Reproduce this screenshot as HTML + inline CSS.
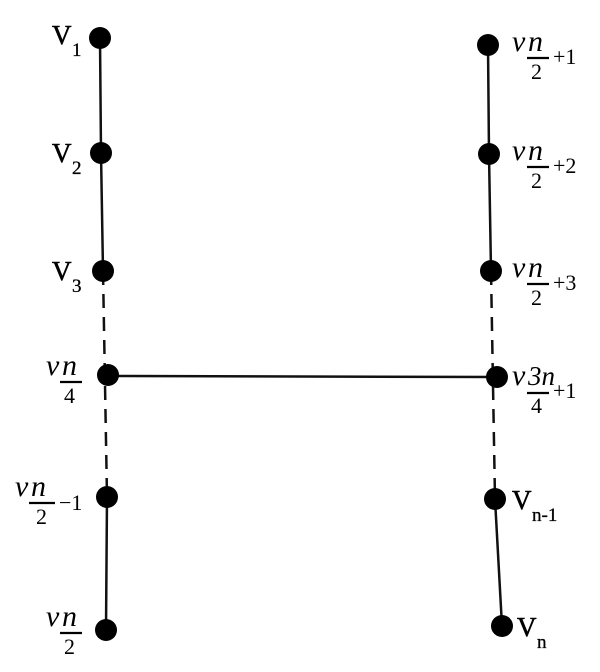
<!DOCTYPE html>
<html><head><style>html,body{margin:0;padding:0;background:#fff}svg{display:block}</style></head>
<body>
<svg width="600" height="672" viewBox="0 0 600 672" xmlns="http://www.w3.org/2000/svg" font-family="Liberation Serif, serif" fill="#000">
<g stroke="#111" stroke-width="2.5" fill="none">
<line x1="100" y1="38" x2="101" y2="153"/>
<line x1="101" y1="153" x2="103" y2="271"/>
<line x1="103" y1="271" x2="107" y2="497" stroke-dasharray="14,9"/>
<line x1="107" y1="497" x2="106" y2="630"/>
<line x1="488" y1="45" x2="489" y2="154"/>
<line x1="489" y1="154" x2="491" y2="271"/>
<line x1="491" y1="271" x2="495" y2="499" stroke-dasharray="14,9"/>
<line x1="495" y1="499" x2="502" y2="626"/>
<line x1="108" y1="376" x2="497" y2="377"/>
</g>
<g>
<circle cx="100" cy="38" r="11"/><circle cx="101" cy="153" r="11"/><circle cx="103" cy="271" r="11"/>
<circle cx="108" cy="375" r="11"/><circle cx="107" cy="497" r="11"/><circle cx="106" cy="630" r="11"/>
<circle cx="488" cy="45" r="11"/><circle cx="489" cy="154" r="11"/><circle cx="491" cy="271" r="11"/>
<circle cx="497" cy="377" r="11"/><circle cx="495" cy="499" r="11"/><circle cx="502" cy="626" r="11"/>
</g>
<g font-size="27" stroke="#000" stroke-width="0.6">
<text x="52" y="44">V</text><text x="72" y="56" font-size="19" stroke-width="0.3">1</text>
<text x="52" y="162">V</text><text x="72" y="174" font-size="19" stroke-width="0.3">2</text>
<text x="52" y="280">V</text><text x="72" y="292" font-size="19" stroke-width="0.3">3</text>
<text x="512" y="509">V</text><text x="532" y="521" font-size="19" stroke-width="0.3">n-1</text>
<text x="517" y="636">V</text><text x="537" y="648" font-size="19" stroke-width="0.3">n</text>
</g>
<g font-style="italic" font-size="30">
<text x="46" y="375">v</text><text x="62" y="375">n</text>
<text x="15" y="496">v</text><text x="31" y="496">n</text>
<text x="46" y="626">v</text><text x="62" y="626">n</text>
<text x="512" y="51">v</text><text x="528" y="51">n</text>
<text x="512" y="160">v</text><text x="528" y="160">n</text>
<text x="512" y="277">v</text><text x="528" y="277">n</text>
<text x="512" y="385">v</text><text x="528" y="385" font-size="27">3n</text>
</g>
<g stroke="#000" stroke-width="2.2">
<line x1="60" y1="382" x2="82" y2="382"/>
<line x1="29" y1="503" x2="55" y2="503"/>
<line x1="60" y1="633" x2="82" y2="633"/>
<line x1="527" y1="58" x2="549" y2="58"/>
<line x1="527" y1="167" x2="549" y2="167"/>
<line x1="527" y1="284" x2="549" y2="284"/>
<line x1="527" y1="393" x2="549" y2="393"/>
</g>
<g font-size="22">
<text x="64" y="403">4</text>
<text x="36" y="524">2</text><text x="59" y="510">−1</text>
<text x="64" y="654">2</text>
<text x="531" y="79">2</text><text x="553" y="64">+1</text>
<text x="531" y="188">2</text><text x="553" y="173">+2</text>
<text x="531" y="305">2</text><text x="553" y="290">+3</text>
<text x="531" y="413">4</text><text x="553" y="398">+1</text>
</g>
</svg>
</body></html>
